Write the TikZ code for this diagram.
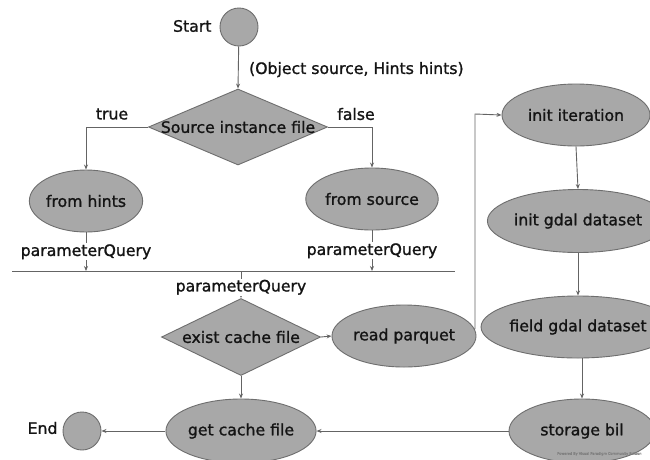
\documentclass[tikz,border=0pt]{standalone}
\usepackage{fontspec}
\setmainfont[FakeBold=1.2]{DejaVu Sans}
\usetikzlibrary{shapes.geometric,arrows.meta}
\definecolor{nodefill}{RGB}{168,168,168}
\definecolor{nodeline}{RGB}{110,110,110}
\definecolor{conline}{RGB}{100,100,100}
\definecolor{txt}{RGB}{20,20,20}
\tikzset{
  every node/.style={font=\fontsize{15.7}{18}\selectfont, text=txt},
  ell/.style={ellipse, draw=nodeline, fill=nodefill, line width=0.9pt, inner sep=0pt},
  terminal/.style={circle, draw=nodeline, fill=nodefill, line width=0.9pt, inner sep=0pt, minimum size=38pt},
  decision/.style={diamond, draw=nodeline, fill=nodefill, line width=0.9pt, inner sep=0pt, aspect=1},
  arr/.style={draw=conline, line width=0.9pt, -{Stealth[length=5pt,width=4pt]}},
  conn/.style={draw=conline, line width=0.9pt},
  lbl/.style={fill=white, inner sep=1pt},
}
\begin{document}
\begin{tikzpicture}[x=1pt,y=-1pt]
\useasboundingbox[fill=white] (0,0) rectangle (650,459);
% nodes
\node[terminal] (start) at (239,27) {};
\node[anchor=east] (startlbl) at (215,26) {Start};
\node[decision, minimum width=179pt, minimum height=76pt] (d1) at (238,127) {\makebox[0pt]{Source instance file}};
\node (truelbl) at (112,114) {true};
\node (falselbl) at (356,114) {false};
\node[ell, minimum width=100pt, minimum height=62pt] (hints) at (86,201) {from hints};
\node[ell, minimum width=130pt, minimum height=62pt] (source) at (372,199) {from source};
\coordinate (barL) at (12,271);
\coordinate (barR) at (455,271);
\coordinate (barC) at (241,271);
\node[decision, minimum width=159pt, minimum height=77pt] (d2) at (241,337) {\makebox[0pt]{exist cache file}};
\node[ell, minimum width=131pt, minimum height=64pt] (getcache) at (241,431) {get cache file};
\node[terminal] (endn) at (82,431) {};
\node[anchor=east] (endlbl) at (61,428) {End};
\node[ell, minimum width=117pt, minimum height=62pt] (rp) at (404,336) {read parquet};
\node[ell, minimum width=148pt, minimum height=62pt] (initit) at (576,115) {init iteration};
\node[ell, minimum width=146pt, minimum height=63pt] (initgd) at (578,221) {init gdal dataset};
\node[ell, minimum width=146pt, minimum height=62pt] (fieldgd) at (578,327) {field gdal dataset};
\node[ell, minimum width=146pt, minimum height=64pt] (storage) at (582,431) {storage bil};
\coordinate (turn) at (475,114);
% connectors
\draw[arr] (start) -- (d1.north) node[pos=0.55, anchor=west, xshift=7pt] (objlbl) {(Object source, Hints hints)};
\draw[arr] (d1.west) -| (hints.north);
\draw[arr] (d1.east) -| (source.north);
\draw[conn] (barL) -- (barR);
\draw[arr] (hints.south) -- (hints.south |- barL) node[midway, lbl] (pq1) {parameterQuery};
\draw[arr] (source.south) -- (source.south |- barL) node[midway, lbl] (pq2) {parameterQuery};
\draw[arr] (barC) -- (d2.north) node[pos=0.6, lbl] (pq3) {parameterQuery};
\draw[arr] (d2.south) -- (getcache.north);
\draw[arr] (d2.east) -- (rp.west);
\draw[arr] (rp.6) -| (turn) -- (initit.west);
\draw[arr] (initit.south) -- (initgd.north);
\draw[arr] (initgd.south) -- (fieldgd.north);
\draw[arr] (fieldgd.south -| storage.north) -- (storage.north);
\draw[arr] (storage.west) -- (getcache.east);
\draw[arr] (getcache.west) -- (endn.east);
\node[font=\fontsize{3.5}{4}\selectfont, text=gray, anchor=south east] (wm) at (645,459) {Powered By Visual Paradigm Community Edition};
\end{tikzpicture}
\end{document}
